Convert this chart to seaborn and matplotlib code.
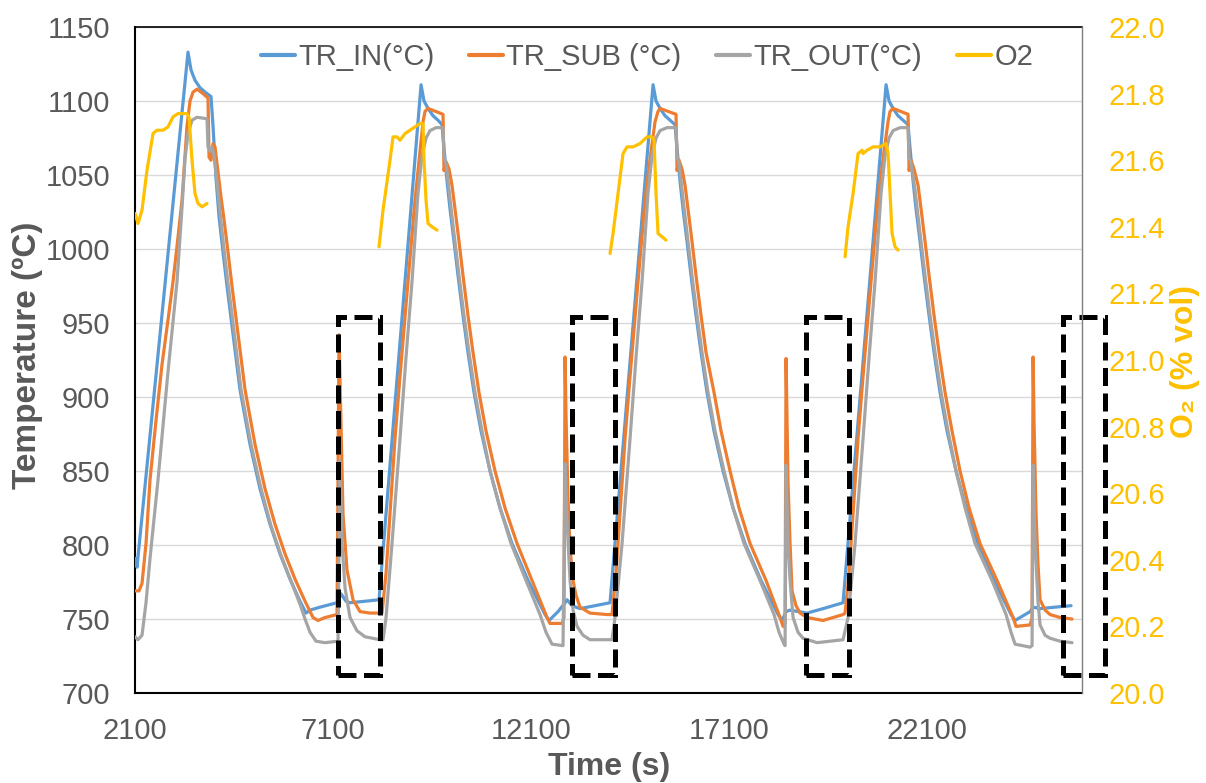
import matplotlib
matplotlib.use("Agg")
import matplotlib.pyplot as plt
import numpy as np
import pandas as pd
import seaborn as sns
from matplotlib.patches import Rectangle
from matplotlib.lines import Line2D
from matplotlib.ticker import FormatStrFormatter

sns.set_theme(style="white")
plt.rcParams['font.family'] = ['Liberation Sans', 'DejaVu Sans']

# ---------------- data (time s, value) ----------------
tr_in = [
    (2100, 791), (2150, 785), (3438, 1133), (3514, 1121), (3615, 1114), (3741, 1109), (3868, 1106),
    (4019, 1103), (4070, 1083), (4145, 1048), (4221, 1022), (4322, 998), (4423, 975), (4549, 948),
    (4751, 905), (5004, 868), (5256, 838), (5509, 814), (5761, 794), (6014, 777), (6266, 762),
    (6418, 754), (6519, 756), (6771, 758), (7201, 761), (7302, 767), (7428, 762), (7529, 761),
    (7908, 762), (8261, 763),
    (9322, 1111), (9397, 1100), (9498, 1095), (9625, 1090), (9751, 1087), (9852, 1084), (9902, 1068),
    (9978, 1046), (10054, 1027), (10155, 1005), (10256, 982), (10382, 955), (10508, 930), (10660, 903),
    (10837, 877), (11064, 850), (11316, 825), (11619, 801), (12023, 776), (12453, 753), (12554, 749),
    (12781, 755), (12958, 761), (13008, 763), (13134, 759), (13336, 757), (13715, 759), (14094, 761),
    (15180, 1111), (15255, 1100), (15356, 1095), (15483, 1090), (15609, 1087), (15735, 1084),
    (15786, 1068), (15861, 1046), (15937, 1027), (16038, 1005), (16139, 982), (16265, 955),
    (16392, 930), (16543, 903), (16720, 877), (16947, 850), (17200, 825), (17503, 801), (17907, 776),
    (18336, 753), (18437, 749), (18538, 755), (18639, 756), (19068, 754), (19472, 757), (19977, 761),
    (21063, 1111), (21139, 1100), (21240, 1095), (21366, 1090), (21492, 1087), (21618, 1084),
    (21669, 1068), (21745, 1046), (21820, 1027), (21921, 1005), (22022, 982), (22149, 955),
    (22275, 930), (22426, 903), (22603, 877), (22830, 850), (23083, 825), (23386, 801), (23790, 776),
    (24219, 753), (24320, 749), (24573, 753), (24699, 755), (24775, 758), (24951, 757), (25330, 758),
    (25734, 759)]

tr_sub = [
    (2100, 769), (2201, 769), (2277, 774), (2378, 801), (2479, 844), (2630, 884), (2782, 922),
    (2933, 952), (3060, 978), (3186, 1008), (3287, 1033), (3363, 1063), (3413, 1083), (3489, 1100),
    (3565, 1106), (3666, 1108), (3817, 1105), (3943, 1102), (3969, 1062), (4019, 1060), (4070, 1071),
    (4120, 1069), (4196, 1052), (4272, 1035), (4347, 1020), (4448, 998), (4549, 975), (4676, 948),
    (4878, 905), (5130, 868), (5383, 838), (5635, 814), (5888, 794), (6140, 777), (6393, 762),
    (6595, 751), (6721, 749), (6898, 751), (7201, 753), (7251, 942), (7302, 882), (7352, 821),
    (7453, 783), (7605, 763), (7781, 755), (8034, 754), (8286, 754),
    (8337, 754), (8438, 781), (8539, 821), (8665, 872), (8791, 914), (8993, 978), (9170, 1033),
    (9296, 1066), (9372, 1086), (9423, 1093), (9498, 1095), (9877, 1091), (9902, 1053), (9953, 1059),
    (10029, 1054), (10104, 1043), (10180, 1027), (10281, 1005), (10382, 982), (10508, 955),
    (10635, 930), (10786, 903), (10963, 877), (11190, 850), (11443, 825), (11746, 801), (12124, 776),
    (12503, 751), (12579, 747), (12882, 747), (12932, 751), (12958, 927), (12983, 887), (13033, 831),
    (13084, 798), (13160, 776), (13235, 766), (13336, 758), (13589, 754), (14018, 753), (14144, 753),
    (14245, 781), (14346, 821), (14473, 872), (14599, 914), (14801, 978), (14978, 1033),
    (15129, 1066), (15230, 1086), (15306, 1093), (15356, 1095), (15760, 1091), (15786, 1053),
    (15836, 1060), (15912, 1054), (15988, 1043), (16063, 1027), (16164, 1005), (16265, 982),
    (16392, 955), (16518, 930), (16720, 903), (16897, 877), (17124, 850), (17351, 825), (17629, 801),
    (18033, 776), (18386, 751), (18462, 745), (18513, 747), (18538, 926), (18563, 882), (18588, 842),
    (18639, 801), (18689, 769), (18790, 759), (18891, 754), (19068, 751), (19472, 749), (19977, 753),
    (20028, 754), (20129, 781), (20230, 821), (20356, 872), (20482, 914), (20684, 978), (20861, 1033),
    (21012, 1066), (21113, 1086), (21164, 1093), (21240, 1095), (21618, 1091), (21644, 1053),
    (21694, 1060), (21770, 1054), (21871, 1043), (21947, 1027), (22048, 1005), (22149, 982),
    (22275, 955), (22401, 930), (22553, 903), (22729, 877), (22931, 850), (23159, 825), (23436, 801),
    (23866, 776), (24270, 751), (24345, 745), (24699, 746), (24749, 751), (24775, 927), (24800, 882),
    (24850, 821), (24901, 786), (24951, 763), (25078, 756), (25204, 753), (25456, 751), (25759, 750)]

tr_out = [
    (2100, 738), (2176, 736), (2277, 739), (2378, 761), (2479, 791), (2681, 844), (2933, 917),
    (3161, 978), (3287, 1028), (3363, 1061), (3438, 1078), (3539, 1087), (3666, 1089), (3918, 1088),
    (3943, 1069), (3994, 1066), (4044, 1069), (4095, 1063), (4171, 1045), (4246, 1025), (4347, 1000),
    (4448, 977), (4575, 950), (4777, 905), (5029, 868), (5282, 838), (5534, 813), (5787, 793),
    (6064, 774), (6266, 760), (6393, 750), (6519, 741), (6670, 735), (6898, 734), (7226, 735),
    (7276, 857), (7327, 801), (7403, 771), (7529, 751), (7706, 742), (7908, 738), (8286, 736),
    (8362, 736), (8438, 751), (8589, 801), (8791, 872), (8943, 927), (9094, 978), (9246, 1038),
    (9347, 1063), (9448, 1075), (9549, 1080), (9700, 1082), (9877, 1082), (9902, 1062), (9953, 1058),
    (10029, 1040), (10104, 1022), (10180, 1005), (10281, 982), (10407, 955), (10534, 930),
    (10685, 903), (10862, 877), (11064, 850), (11316, 825), (11594, 801), (11973, 776), (12326, 753),
    (12478, 741), (12629, 733), (12907, 732), (12958, 855), (13008, 816), (13084, 776), (13160, 756),
    (13261, 745), (13412, 739), (13589, 736), (14144, 736),
    (14220, 751), (14397, 801), (14599, 872), (14750, 927), (14902, 978), (15053, 1038),
    (15154, 1063), (15255, 1075), (15356, 1080), (15533, 1082), (15760, 1082), (15786, 1062),
    (15836, 1058), (15912, 1040), (15988, 1022), (16063, 1005), (16164, 982), (16291, 955),
    (16417, 930), (16568, 903), (16745, 877), (16972, 850), (17200, 825), (17477, 801), (17881, 776),
    (18235, 753), (18361, 741), (18487, 733), (18513, 732), (18538, 854), (18588, 801), (18639, 776),
    (18715, 751), (18841, 741), (18967, 737), (19321, 734), (19977, 736),
    (20103, 751), (20280, 801), (20482, 872), (20634, 927), (20785, 978), (20937, 1038),
    (21038, 1063), (21139, 1075), (21240, 1080), (21416, 1082), (21618, 1082), (21644, 1062),
    (21694, 1058), (21795, 1040), (21871, 1022), (21947, 1005), (22048, 982), (22174, 955),
    (22300, 930), (22452, 903), (22628, 877), (22830, 850), (23058, 825), (23310, 801), (23739, 776),
    (24093, 753), (24219, 741), (24320, 733), (24699, 731), (24749, 732), (24775, 854), (24825, 801),
    (24901, 761), (24951, 746), (25078, 739), (25204, 737), (25456, 735), (25759, 734)]

# O2 is logged in four separate bursts
o2_burst1 = [(2100, 21.44), (2176, 21.41), (2277, 21.45), (2403, 21.57), (2555, 21.68), (2656, 21.69),
             (2807, 21.69), (2933, 21.70), (3060, 21.73), (3186, 21.74), (3413, 21.74), (3464, 21.73),
             (3539, 21.60), (3615, 21.50), (3691, 21.47), (3792, 21.46), (3918, 21.47)]
o2_burst2 = [(8261, 21.34), (8362, 21.45), (8539, 21.60), (8615, 21.67), (8716, 21.67), (8791, 21.66),
             (8918, 21.68), (9044, 21.69), (9170, 21.70), (9296, 21.71), (9372, 21.71), (9397, 21.60),
             (9448, 21.48), (9498, 21.41), (9599, 21.40), (9726, 21.39)]
o2_burst3 = [(14094, 21.32), (14170, 21.38), (14296, 21.50), (14422, 21.62), (14523, 21.64),
             (14675, 21.64), (14851, 21.65), (15028, 21.67), (15154, 21.67), (15205, 21.66),
             (15255, 21.50), (15306, 21.38), (15407, 21.37), (15508, 21.36)]
o2_burst4 = [(20028, 21.31), (20103, 21.40), (20230, 21.50), (20356, 21.62), (20457, 21.63),
             (20482, 21.62), (20583, 21.63), (20735, 21.64), (20911, 21.64), (21063, 21.65),
             (21113, 21.62), (21164, 21.50), (21214, 21.38), (21290, 21.34), (21366, 21.33)]

# dashed highlight windows (time range) and their temperature band
box_start = [7226, 13134, 19043, 25532]
box_end = [8286, 14220, 20129, 26593]
box_low, box_high = 712, 954

series_names = ["TR_IN(°C)", "TR_SUB (°C)", "TR_OUT(°C)", "O2"]
series_colors = ["#5B9BD5", "#ED7D31", "#A5A5A5", "#FFC000"]

x_ticks = [2100, 7100, 12100, 17100, 22100]
y_ticks = list(range(700, 1151, 50))
y2_ticks = [20.0, 20.2, 20.4, 20.6, 20.8, 21.0, 21.2, 21.4, 21.6, 21.8, 22.0]

# ---------------- figure ----------------
W, H = 1206, 783
fig = plt.figure(figsize=(W / 100, H / 100), dpi=100)
ax = fig.add_axes([135 / W, 1 - 693 / H, 947 / W, 666 / H])
ax2 = ax.twinx()

grey_txt = "#595959"
lw = 2.3

def frame(pairs):
    return pd.DataFrame(pairs, columns=["t", "v"])

df_o2 = pd.concat([frame(b).assign(c=i) for i, b in
                   enumerate([o2_burst1, o2_burst2, o2_burst3, o2_burst4])], ignore_index=True)

for pairs, col in zip([tr_in, tr_sub, tr_out], series_colors[:3]):
    sns.lineplot(data=frame(pairs), x="t", y="v", ax=ax, color=col, linewidth=lw,
                 estimator=None, sort=False, legend=False, zorder=3)
sns.lineplot(data=df_o2, x="t", y="v", units="c", ax=ax2, color=series_colors[3], linewidth=lw,
             estimator=None, sort=False, legend=False, zorder=3)

for s, e in zip(box_start, box_end):
    ax.add_patch(Rectangle((s, box_low), e - s, box_high - box_low, fill=False,
                           edgecolor="black", linewidth=3.6, linestyle=(0, (3.6, 1.5)),
                           clip_on=False, zorder=6, joinstyle="miter"))

# axes limits / ticks
ax.set_xlim(2100, 26010)
ax.set_ylim(700, 1150)
ax2.set_ylim(20, 22)
ax.set_xticks(x_ticks)
ax.set_yticks(y_ticks)
ax2.set_yticks(y2_ticks)
ax2.yaxis.set_major_formatter(FormatStrFormatter("%.1f"))

ax.grid(False)
ax2.grid(False)
ax.yaxis.grid(True, color="#D9D9D9", linewidth=1.0)
ax.set_axisbelow(True)

ax.tick_params(axis="y", length=0, pad=18, labelsize=21, labelcolor=grey_txt)
ax.tick_params(axis="x", length=0, pad=17, labelsize=21, labelcolor=grey_txt)
ax2.tick_params(axis="y", length=0, pad=19, labelsize=21, labelcolor="#FFC000")

for side in ["left", "bottom", "top"]:
    ax.spines[side].set_color("black")
    ax.spines[side].set_linewidth(1.5)
ax.spines["top"].set_linewidth(1.2)
ax.spines["right"].set_visible(False)
for side in ["left", "bottom", "top"]:
    ax2.spines[side].set_visible(False)
ax2.spines["right"].set_color("#7F7F7F")
ax2.spines["right"].set_linewidth(1.0)

ax.set_xlabel("Time (s)", fontsize=23, fontweight="bold", color=grey_txt)
ax.set_ylabel("Temperature (ºC)", fontsize=24, fontweight="bold", color=grey_txt)
ax2.set_ylabel("O₂ (% vol)", fontsize=23, fontweight="bold", color="#FFC000", rotation=90)
ax.xaxis.label.set_verticalalignment("center")
ax.yaxis.label.set_verticalalignment("center")
ax2.yaxis.label.set_verticalalignment("center")
ax.xaxis.set_label_coords((609 - 135) / 947, (693 - 767) / 666)
ax.yaxis.set_label_coords((28 - 135) / 947, (693 - 355) / 666)
ax2.yaxis.set_label_coords((1185 - 135) / 947, (693 - 361) / 666)

handles = [Line2D([], [], color=c, linewidth=3) for c in series_colors]
ax2.legend(handles, series_names, loc="center", bbox_to_anchor=((647 - 135) / 947, (693 - 57) / 666),
           ncol=4, frameon=False, fontsize=21, handlelength=1.15, handletextpad=0.12,
           columnspacing=1.2, borderpad=0, labelcolor=grey_txt)

fig.savefig("out.png", dpi=100)
